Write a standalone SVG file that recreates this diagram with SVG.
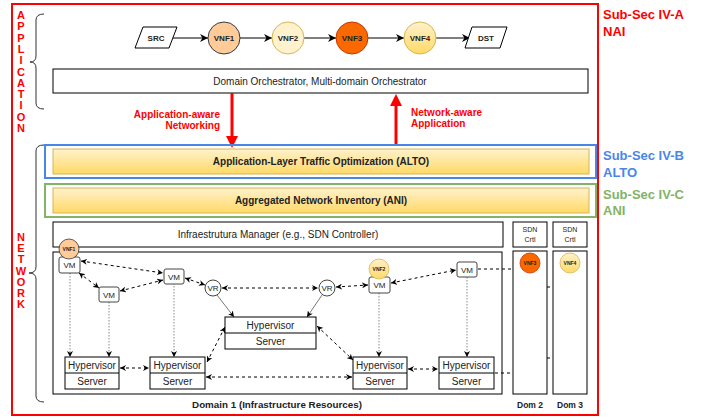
<svg xmlns="http://www.w3.org/2000/svg" width="707" height="418" viewBox="0 0 707 418">
<style>
text{font-family:"Liberation Sans",Arial,Helvetica,sans-serif;}
.red{fill:#ff0000;font-weight:bold;}
.box{fill:#fff;stroke:#000;stroke-width:1;}
.yel{fill:url(#yg);stroke:#d6b656;stroke-width:1;}
.t10{font-size:10px;fill:#222;text-anchor:middle;}
.t8{font-size:8px;fill:#222;text-anchor:middle;}
.b{font-weight:bold;}
.vm{fill:#fff;stroke:#444;stroke-width:1;}
.dash{fill:none;stroke:#000;stroke-width:1;stroke-dasharray:3,3;marker-start:url(#ah);marker-end:url(#ah);}
.dot{fill:none;stroke:#888;stroke-width:1;stroke-dasharray:1.5,1.5;marker-end:url(#ah);}
.flow{fill:none;stroke:#000;stroke-width:1;marker-end:url(#ah2);}
.thin{fill:none;stroke:#555;stroke-width:0.8;marker-end:url(#ah);}
.brace{fill:none;stroke:#333;stroke-width:1;}
</style>
<defs>
<linearGradient id="yg" x1="0" y1="0" x2="0" y2="1"><stop offset="0" stop-color="#fff2cc"/><stop offset="1" stop-color="#ffd966"/></linearGradient>
<marker id="ah" viewBox="0 0 10 10" refX="10" refY="5" markerWidth="6" markerHeight="6" markerUnits="userSpaceOnUse" orient="auto-start-reverse"><path d="M0,0 L10,5 L0,10 L3,5 z" fill="#000"/></marker>
<marker id="ah2" viewBox="0 0 10 10" refX="10" refY="5" markerWidth="8" markerHeight="8" markerUnits="userSpaceOnUse" orient="auto"><path d="M0,0 L10,5 L0,10 L3,5 z" fill="#000"/></marker>
</defs>

<!-- outer red frame -->
<rect x="12" y="4" width="586" height="411" fill="none" stroke="#ff0000" stroke-width="2"/>

<text class="red" font-size="11" text-anchor="middle"><tspan x="21" y="19">A</tspan><tspan x="21" dy="11.3">P</tspan><tspan x="21" dy="11.3">P</tspan><tspan x="21" dy="11.3">L</tspan><tspan x="21" dy="11.3">I</tspan><tspan x="21" dy="11.3">C</tspan><tspan x="21" dy="11.3">A</tspan><tspan x="21" dy="11.3">T</tspan><tspan x="21" dy="11.3">I</tspan><tspan x="21" dy="11.3">O</tspan><tspan x="21" dy="11.3">N</tspan></text>
<text class="red" font-size="11" text-anchor="middle"><tspan x="21" y="241">N</tspan><tspan x="21" dy="11.2">E</tspan><tspan x="21" dy="11.2">T</tspan><tspan x="21" dy="11.2">W</tspan><tspan x="21" dy="11.2">O</tspan><tspan x="21" dy="11.2">R</tspan><tspan x="21" dy="11.2">K</tspan></text>

<path class="brace" d="M44,14 Q36,14 36,20 L36,56 Q36,62 30,62 Q36,62 36,68 L36,103 Q36,109 44,109"/>
<path class="brace" d="M44,145 Q36,145 36,151 L36,267 Q36,273 29,273 Q36,273 36,279 L36,396 Q36,402 44,402"/>

<text class="red" font-size="13"><tspan x="603" y="19">Sub-Sec IV-A</tspan><tspan x="603" y="36">NAI</tspan></text>
<text font-size="13" font-weight="bold" fill="#4a86e8"><tspan x="603" y="160">Sub-Sec IV-B</tspan><tspan x="603" y="177">ALTO</tspan></text>
<text font-size="13" font-weight="bold" fill="#82b366"><tspan x="603" y="199">Sub-Sec IV-C</tspan><tspan x="603" y="215">ANI</tspan></text>

<!-- application flow -->
<g id="connectors-flow">
<line class="flow" x1="170" y1="38" x2="208" y2="38"/>
<line class="flow" x1="240" y1="38" x2="272" y2="38"/>
<line class="flow" x1="304" y1="38" x2="336" y2="38"/>
<line class="flow" x1="368" y1="38" x2="404" y2="38"/>
<line class="flow" x1="436" y1="38" x2="470" y2="38"/>
</g>
<g id="src"><polygon points="135,48 143,27 177,27 169,48" class="box"/><text x="156" y="41" class="t8 b">SRC</text></g>
<g id="vnf1"><circle cx="224" cy="38" r="16" fill="#ffcc99" stroke="#36393d"/><text x="224" y="41" class="t8 b">VNF1</text></g>
<g id="vnf2"><circle cx="288" cy="38" r="16" fill="#fff2cc" stroke="#d6b656"/><text x="288" y="41" class="t8 b">VNF2</text></g>
<g id="vnf3"><circle cx="352" cy="38" r="16" fill="#fa6800" stroke="#c73500"/><text x="352" y="41" class="t8 b">VNF3</text></g>
<g id="vnf4"><circle cx="420" cy="38" r="16" fill="url(#yg)" stroke="#d6b656"/><text x="420" y="41" class="t8 b">VNF4</text></g>
<g id="dst"><polygon points="465,48 472,27 507,27 500,48" class="box"/><text x="486" y="41" class="t8 b">DST</text></g>

<g id="orchestrator"><rect x="53" y="69" width="535" height="24" class="box"/><text x="320" y="84.5" class="t10">Domain Orchestrator, Multi-domain Orchestrator</text></g>

<!-- red arrows -->
<g id="red-arrows">
<line x1="232" y1="93" x2="232" y2="137" stroke="#ff0000" stroke-width="3"/>
<polygon points="226,136 238,136 232,148" fill="#ff0000"/>
<line x1="396" y1="106" x2="396" y2="145" stroke="#ff0000" stroke-width="3"/>
<polygon points="390,106 402,106 396,94" fill="#ff0000"/>
</g>
<text class="red" font-size="10" text-anchor="end"><tspan x="220" y="118">Application-aware</tspan><tspan x="220" y="129">Networking</tspan></text>
<text class="red" font-size="10"><tspan x="411" y="116">Network-aware</tspan><tspan x="411" y="127">Application</tspan></text>

<g id="alto">
<rect x="45" y="145" width="551" height="33" fill="none" stroke="#4a86e8" stroke-width="2"/>
<rect x="53" y="149" width="536" height="25" class="yel"/>
<text x="321" y="165" class="t10 b">Application-Layer Traffic Optimization (ALTO)</text>
</g>
<g id="ani">
<rect x="45" y="184" width="551" height="33" fill="none" stroke="#82b366" stroke-width="2"/>
<rect x="53" y="188" width="536" height="25" class="yel"/>
<text x="321" y="204" class="t10 b">Aggregated Network Inventory (ANI)</text>
</g>

<g id="infra-manager"><rect x="53" y="222" width="450" height="25" class="box"/><text x="278" y="238" class="t10">Infraestrutura Manager (e.g., SDN Controller)</text></g>
<g id="sdn2"><rect x="513" y="222" width="34" height="25" class="box"/><text class="t8" style="font-size:7px"><tspan x="530" y="232">SDN</tspan><tspan x="530" y="242">Crtl</tspan></text></g>
<g id="sdn3"><rect x="553" y="222" width="34" height="25" class="box"/><text class="t8" style="font-size:7px"><tspan x="570" y="232">SDN</tspan><tspan x="570" y="242">Crtl</tspan></text></g>

<g id="domain1"><rect x="53" y="252" width="449" height="142" class="box"/><text x="277" y="408" class="t10 b" style="font-size:9.8px">Domain 1 (Infrastructure Resources)</text></g>
<g id="dom2"><rect x="513" y="251" width="34" height="143" class="box"/><text x="530" y="408" class="t10 b" style="font-size:8.5px">Dom 2</text></g>
<g id="dom3"><rect x="553" y="251" width="34" height="143" class="box"/><text x="570" y="408" class="t10 b" style="font-size:8.5px">Dom 3</text></g>

<!-- connectors -->
<g id="connectors">
<line class="dot" x1="70" y1="273" x2="70" y2="357"/>
<line class="dot" x1="109" y1="302" x2="109" y2="357"/>
<line class="dot" x1="174" y1="283" x2="174" y2="357"/>
<line class="dot" x1="379" y1="293" x2="379" y2="357"/>
<line class="dot" x1="467" y1="277" x2="467" y2="357"/>
<line class="thin" x1="217" y1="295" x2="234" y2="317"/>
<line class="thin" x1="322" y1="295" x2="307" y2="317"/>
<line class="dash" x1="81" y1="261" x2="163" y2="273"/>
<line class="dash" x1="79" y1="273" x2="99" y2="288"/>
<line class="dash" x1="120" y1="291" x2="163" y2="280"/>
<line class="dash" x1="185" y1="278" x2="205" y2="285"/>
<line class="dash" x1="222" y1="288" x2="318" y2="288"/>
<line class="dash" x1="336" y1="287" x2="368" y2="285"/>
<line class="dash" x1="391" y1="283" x2="456" y2="270"/>
<line x1="478" y1="269" x2="513" y2="269" stroke="#000" stroke-dasharray="3,3"/>
<line x1="547" y1="287" x2="553" y2="287" stroke="#000" stroke-dasharray="3,3"/>
<line x1="547" y1="358" x2="553" y2="358" stroke="#000" stroke-dasharray="3,3"/>
<line class="dash" x1="120" y1="368" x2="149" y2="368"/>
<line class="dash" x1="207" y1="362" x2="225" y2="327"/>
<line class="dash" x1="317" y1="326" x2="353" y2="360"/>
<line class="dash" x1="206" y1="377" x2="352" y2="377"/>
<line class="dash" x1="408" y1="369" x2="438" y2="369"/>
<line x1="495" y1="373" x2="513" y2="373" stroke="#000" stroke-dasharray="3,3"/>
</g>

<!-- domain 1 nodes -->
<g id="vm1"><rect x="59" y="257" width="21" height="16" rx="2" class="vm"/><text x="69.5" y="268" class="t8">VM</text></g>
<g id="vnf1-small"><circle cx="69" cy="249" r="10" fill="#ffcc99" stroke="#36393d" stroke-width="0.8"/><text x="69" y="251" class="t8 b" style="font-size:5px">VNF1</text></g>
<g id="vm2"><rect x="99" y="287" width="20" height="15" rx="2" class="vm"/><text x="109" y="297.5" class="t8">VM</text></g>
<g id="vm3"><rect x="164" y="269" width="20" height="15" rx="2" class="vm"/><text x="174" y="279.5" class="t8">VM</text></g>
<g id="vr1"><circle cx="213" cy="288" r="8" class="vm"/><text x="213" y="291" class="t8">VR</text></g>
<g id="vr2"><circle cx="327" cy="288" r="8" class="vm"/><text x="327" y="291" class="t8">VR</text></g>
<g id="vm4"><rect x="369" y="277" width="21" height="16" rx="2" class="vm"/><text x="379.5" y="288" class="t8">VM</text></g>
<g id="vnf2-small"><circle cx="379" cy="269" r="10" fill="url(#yg)" stroke="#d6b656" stroke-width="0.8"/><text x="379" y="271" class="t8 b" style="font-size:5px">VNF2</text></g>
<g id="vm5"><rect x="457" y="262" width="20" height="15" rx="2" class="vm"/><text x="467" y="272.5" class="t8">VM</text></g>
<g id="vnf3-small"><circle cx="530" cy="263" r="10" fill="#fa6800" stroke="#c73500" stroke-width="0.8"/><text x="530" y="265" class="t8 b" style="font-size:5px">VNF3</text></g>
<g id="vnf4-small"><circle cx="570" cy="263" r="10" fill="url(#yg)" stroke="#d6b656" stroke-width="0.8"/><text x="570" y="265" class="t8 b" style="font-size:5px">VNF4</text></g>

<g id="hs1"><rect x="65" y="357" width="54" height="32" class="box"/><line x1="65" y1="373" x2="119" y2="373" stroke="#000"/><text x="92" y="369" class="t10">Hypervisor</text><text x="92" y="385" class="t10">Server</text></g>
<g id="hs2"><rect x="150" y="357" width="55" height="32" class="box"/><line x1="150" y1="373" x2="205" y2="373" stroke="#000"/><text x="177.5" y="369" class="t10">Hypervisor</text><text x="177.5" y="385" class="t10">Server</text></g>
<g id="hs-center"><rect x="225" y="317" width="91" height="32" class="box"/><line x1="225" y1="333" x2="316" y2="333" stroke="#000"/><text x="270.5" y="329" class="t10">Hypervisor</text><text x="270.5" y="345" class="t10">Server</text></g>
<g id="hs3"><rect x="353" y="357" width="54" height="32" class="box"/><line x1="353" y1="373" x2="407" y2="373" stroke="#000"/><text x="380" y="369" class="t10">Hypervisor</text><text x="380" y="385" class="t10">Server</text></g>
<g id="hs4"><rect x="439" y="357" width="55" height="32" class="box"/><line x1="439" y1="373" x2="494" y2="373" stroke="#000"/><text x="466.5" y="369" class="t10">Hypervisor</text><text x="466.5" y="385" class="t10">Server</text></g>
</svg>
